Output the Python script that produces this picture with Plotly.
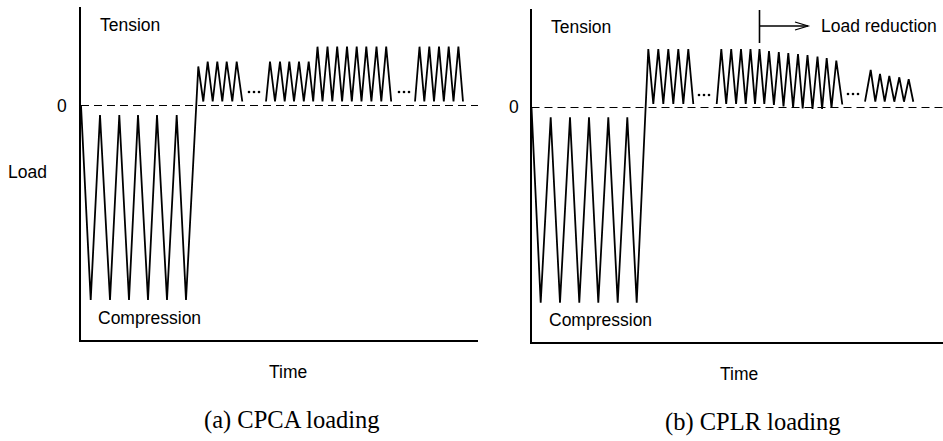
import plotly.graph_objects as go

W, H = 943, 441

# ---------------- (a) CPCA loading: constant-amplitude tension blocks ----------------
# Compression cycles followed by the first tension block
a1_time = [0, 9.7, 19, 29, 38.3, 48, 57, 67, 76, 86, 95.7, 105,
           117.3, 122.3, 126.7, 131.7, 136.3, 141.3, 145.7, 151.3, 155.7, 161.3]
a1_load = [0, -194.5, -9.5, -194.5, -9.5, -194.5, -9.5, -194.5, -9.5, -194.5, -9.5, -194.5,
           39, 4, 44, 4, 44, 4, 44, 4, 44, 4]
# Second tension block rising into the higher block
a2_time = [185, 189, 194, 199, 203.7, 208.3, 213, 218, 222.8, 227.7, 232.2,
           236.5, 241.5, 246.5, 251.3, 256.2, 261.1, 266, 270.8, 275.7, 280.5,
           285.3, 290.4, 295.5, 300.3, 305.2, 310.2]
a2_load = [4, 44, 4, 44, 4, 44, 4, 44, 4, 44, 4,
           58.8, 4, 58.8, 4, 58.8, 4, 58.8, 4, 58.8, 4,
           58.8, 4, 58.8, 4, 58.8, 4]
# Last block
a3_time = [334, 338.5, 343.3, 348.3, 353, 358, 362.8, 367.7, 372.5, 377.4, 382]
a3_load = [4, 58.8, 4, 58.8, 4, 58.8, 4, 58.8, 4, 58.8, 4]
# Ellipsis markers between blocks
a_dots_time = [168, 173, 178, 318, 323, 328]
a_dots_load = [13.5] * 6

# ---------------- (b) CPLR loading: tension blocks with load reduction ----------------
b1_time = [0, 9.2, 19.2, 28.5, 38.5, 47.8, 57.5, 66.8, 76.8, 86.2, 95.8, 105.2,
           116.8, 121.8, 126.8, 131.8, 136.8, 141.8, 146.8, 151.8, 156.8, 161.8]
b1_load = [0, -195.2, -9.8, -195.2, -9.8, -195.2, -9.8, -195.2, -9.8, -195.2, -9.8, -195.2,
           58.5, 3.5, 58.5, 3.5, 58.5, 3.5, 58.5, 3.5, 58.5, 3.5]
b2_time = [185.2, 189.8, 194.7, 199.7, 204.6, 209.5, 214.2, 219, 223.5, 228,
           232.8, 237.5, 242.4, 247.3, 252, 256.8, 261.6, 266.5, 271.2, 276,
           281, 286, 290.6, 295.2, 300, 304.8, 310.8]
b2_load = [3.5, 58.5, 3.5, 58.5, 3.5, 58.5, 3.5, 58.5, 3.5, 58.5,
           3.5, 56.5, 2.5, 55.5, 1, 54.5, 0, 53.5, -1, 52.5,
           -1.5, 51, -1.5, 49.5, -0.5, 47, 3]
b3_time = [333.5, 339.2, 343.8, 348.5, 353.2, 357.8, 362.8, 367.8, 372.5, 377.2, 381.8]
b3_load = [5.8, 37.5, 5.8, 33.5, 5.8, 31.5, 5.8, 30.2, 5.8, 28.2, 5.8]
b_dots_time = [167.5, 172.5, 177.5, 316.5, 321.5, 326.5]
b_dots_load = [12.5, 12.5, 12.5, 13.5, 13.5, 13.5]
# Start of the load reduction phase
b_reduction_start = 228

# Axis extents (time, load) of each panel
a_time_max, b_time_max = 397, 411.5
load_min, load_max = -234.5, 98.2

BLACK = "#000000"
fig = go.Figure()

def add_path(t, L, xa, ya):
    fig.add_trace(go.Scatter(x=t, y=L, mode="lines", xaxis=xa, yaxis=ya,
                             line=dict(color=BLACK, width=1.8), hoverinfo="skip",
                             showlegend=False))

def add_dots(t, L, xa, ya):
    fig.add_trace(go.Scatter(x=t, y=L, mode="markers", xaxis=xa, yaxis=ya,
                             marker=dict(color=BLACK, size=2.6), hoverinfo="skip",
                             showlegend=False))

for t, L in [(a1_time, a1_load), (a2_time, a2_load), (a3_time, a3_load)]:
    add_path(t, L, "x", "y")
add_dots(a_dots_time, a_dots_load, "x", "y")
for t, L in [(b1_time, b1_load), (b2_time, b2_load), (b3_time, b3_load)]:
    add_path(t, L, "x2", "y2")
add_dots(b_dots_time, b_dots_load, "x2", "y2")

def px(x):
    return x / W

def py(y):
    return 1 - y / H

axis_common = dict(showgrid=False, zeroline=False, showticklabels=False, ticks="",
                   showline=True, linecolor=BLACK, linewidth=2, fixedrange=True)

fig.update_layout(
    width=W, height=H, margin=dict(l=0, r=0, t=0, b=0),
    paper_bgcolor="white", plot_bgcolor="white",
    xaxis=dict(domain=[px(81), px(478)], range=[0, a_time_max], anchor="y", **axis_common),
    yaxis=dict(domain=[py(340), py(7.3)], range=[load_min, load_max], anchor="x", **axis_common),
    xaxis2=dict(domain=[px(531.5), 1.0], range=[0, b_time_max], anchor="y2", **axis_common),
    yaxis2=dict(domain=[py(341.5), py(9.3)], range=[-234, 98.2], anchor="x2", **axis_common),
)

# Dashed zero-load lines
for xr, yr, tmax in [("x", "y", a_time_max), ("x2", "y2", b_time_max)]:
    fig.add_shape(type="line", xref=xr, yref=yr, x0=0, x1=tmax, y0=0, y1=0,
                  line=dict(color=BLACK, width=1.2, dash="8px,5px"), layer="below")

# Load reduction marker and arrow
fig.add_shape(type="line", xref="x2", yref="y2", x0=b_reduction_start, x1=b_reduction_start,
              y0=64.5, y1=97.5, line=dict(color=BLACK, width=1.6))
tip = b_reduction_start + 48.5
fig.add_shape(type="line", xref="x2", yref="y2", x0=b_reduction_start, x1=tip,
              y0=81.5, y1=81.5, line=dict(color=BLACK, width=1.3))
fig.add_shape(type="path", xref="x2", yref="y2",
              path=f"M {tip - 13},{85.5} L {tip},{81.5} L {tip - 13},{77.5}",
              line=dict(color=BLACK, width=1.3))

SANS = "Liberation Sans, Arial, sans-serif"
SERIF = "Liberation Serif, Times New Roman, serif"

def label(text, x, y, size=17.5, family=SANS, xanchor="left"):
    fig.add_annotation(text=text, x=px(x), y=py(y), xref="paper", yref="paper",
                       xanchor=xanchor, yanchor="middle", showarrow=False,
                       font=dict(family=family, size=size, color=BLACK))

# Panel (a) labels
label("Tension", 98, 25)
label("Compression", 96, 318)
label("0", 69, 105.5, xanchor="right")
label("Load", 6, 172)
label("Time", 288, 372, xanchor="center")
label("(a) CPCA loading", 292, 420, size=24.5, family=SERIF, xanchor="center")

# Panel (b) labels
label("Tension", 549, 27)
label("Compression", 547, 320)
label("0", 521, 107.5, xanchor="right")
label("Time", 739, 374, xanchor="center")
label("Load reduction", 819, 26)
label("(b) CPLR loading", 753, 422, size=24.5, family=SERIF, xanchor="center")

fig.write_html("out.html")
